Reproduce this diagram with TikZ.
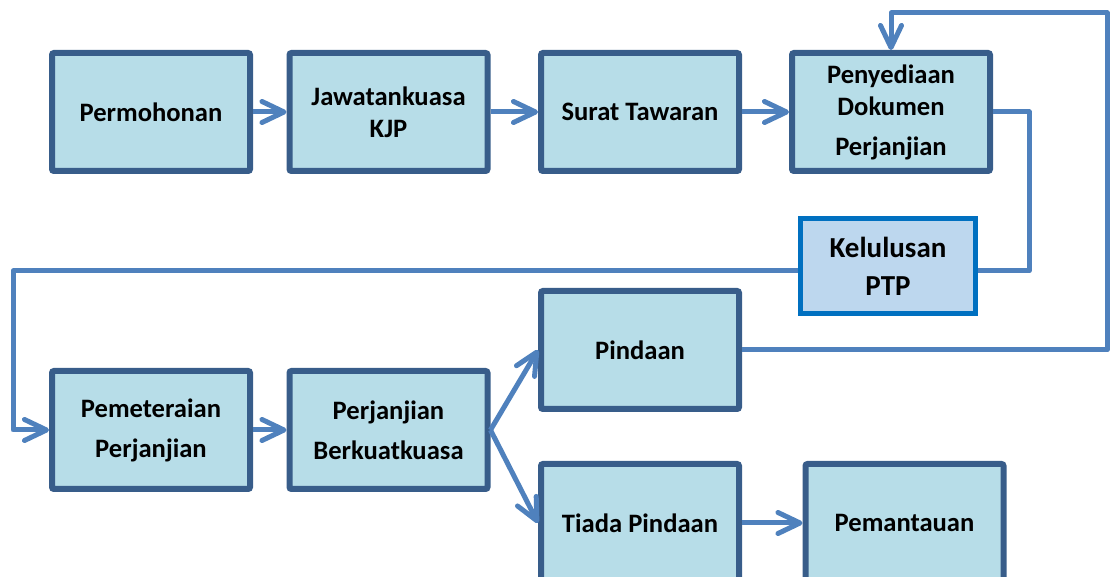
\documentclass[tikz,border=0pt]{standalone}
\usepackage{fontspec}
\setmainfont{Carlito}
\usetikzlibrary{arrows.meta}
\definecolor{boxfill}{HTML}{B7DDE8}
\definecolor{boxline}{HTML}{385D8A}
\definecolor{flowline}{HTML}{4F81BD}
\definecolor{ptpfill}{HTML}{BDD7EE}
\definecolor{ptpline}{HTML}{0070C0}

\begin{document}
\begin{tikzpicture}[x=0.5pt, y=-0.5pt,
  box/.style={draw=boxline, fill=boxfill, line width=3pt, rounded corners=1pt,
    minimum width=99pt, minimum height=59pt, inner sep=0pt, align=center,
    font=\fontsize{13.3}{16}\selectfont\bfseries},
  ptpbox/.style={draw=ptpline, fill=ptpfill, line width=2.5pt,
    minimum width=87.5pt, minimum height=47.5pt, inner sep=0pt, align=center,
    font=\fontsize{14.5}{19}\selectfont\bfseries},
  flow/.style={draw=flowline, line width=2.5pt, line join=round},
  >={Straight Barb[length=11pt, width=10.5pt, line cap=round, line join=round]}]
  \useasboundingbox (0,0) rectangle (1110,577);
  \clip (0,0) rectangle (1110,577);

  \node[box] (permohonan) at (151,112) {Permohonan};
  \node[box] (jawatan) at (388.5,112) {Jawatankuasa\\KJP};
  \node[box] (surat) at (640,112) {Surat Tawaran};
  \node[box] (penyediaan) at (891,112) {Penyediaan\\Dokumen\\[4pt]Perjanjian};
  \node[ptpbox] (kelulusan) at (888,266) {Kelulusan\\PTP};
  \node[box] (pemeteraian) at (151,430) {Pemeteraian\\[4pt]Perjanjian};
  \node[box] (berkuatkuasa) at (388.5,430) {Perjanjian\\[4pt]Berkuatkuasa};
  \node[box] (pindaan) at (640,350) {Pindaan};
  \node[box] (tiada) at (640,523) {Tiada Pindaan};
  \node[box] (pemantauan) at (904.5,523) {Pemantauan};

  \coordinate (rightbend) at (1029,271);
  \coordinate (leftbend) at (13,271);
  \coordinate (topbend) at (1107,13);

  \draw[flow,->] (permohonan) -- (jawatan);
  \draw[flow,->] (jawatan) -- (surat);
  \draw[flow,->] (surat) -- (penyediaan);
  \draw[flow] (penyediaan.east) -| (rightbend) -- (kelulusan.east |- rightbend);
  \draw[flow,->] (kelulusan.west |- leftbend) -- (leftbend) |- (pemeteraian.west);
  \draw[flow,->] (pemeteraian) -- (berkuatkuasa);
  \draw[flow,->] (berkuatkuasa.east) -- (pindaan.west);
  \draw[flow,->] (berkuatkuasa.east) -- (tiada.west);
  \draw[flow,->] (tiada) -- (pemantauan);
  \draw[flow,->] (pindaan.east) -| (topbend) -| (penyediaan.north);
\end{tikzpicture}
\end{document}
